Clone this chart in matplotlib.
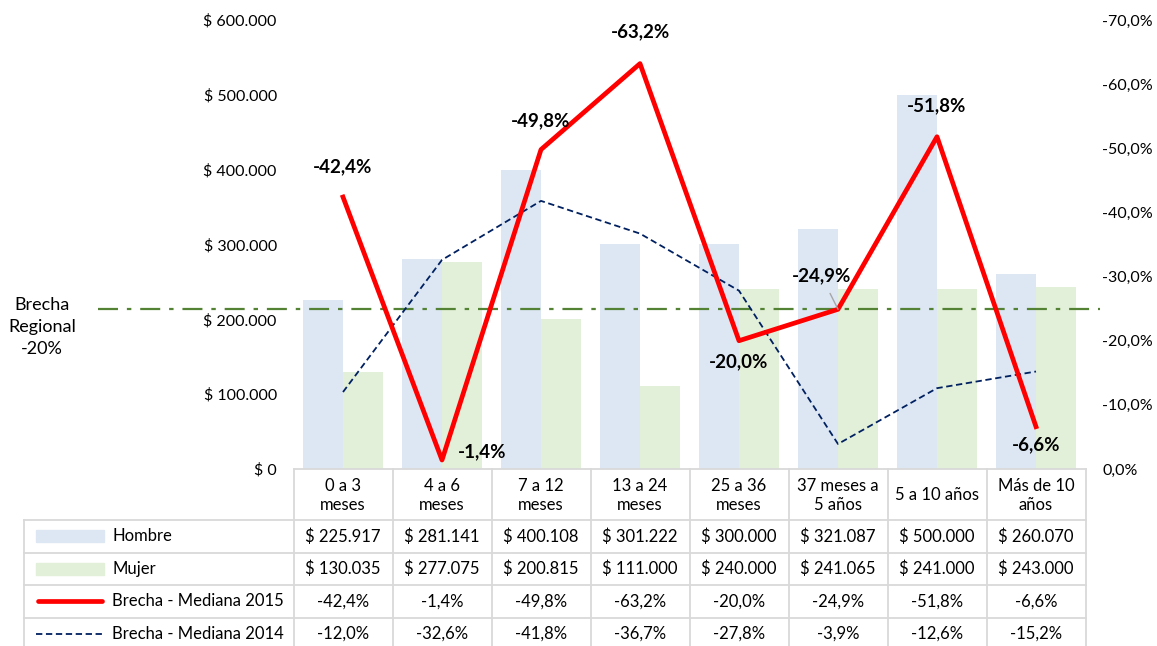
import numpy as np
import matplotlib
matplotlib.use("Agg")
import matplotlib.pyplot as plt
from matplotlib.patches import Rectangle

plt.rcParams["font.family"] = ["Lato", "DejaVu Sans"]

# --- data ---
categorias = ["0 a 3\nmeses", "4 a 6\nmeses", "7 a 12\nmeses", "13 a 24\nmeses",
              "25 a 36\nmeses", "37 meses a\n5 años", "5 a 10 años", "Más de 10\naños"]
hombre = [225917, 281141, 400108, 301222, 300000, 321087, 500000, 260070]
mujer = [130035, 277075, 200815, 111000, 240000, 241065, 241000, 243000]
brecha_2015 = [-42.4, -1.4, -49.8, -63.2, -20.0, -24.9, -51.8, -6.6]
brecha_2014 = [-12.0, -32.6, -41.8, -36.7, -27.8, -3.9, -12.6, -15.2]
brecha_regional = -24.9
brecha_regional_txt = "Brecha\nRegional\n-20%"

C_HOMBRE = "#DCE7F3"
C_MUJER = "#E2EFD9"
C_2015 = "#FF0000"
C_2014 = "#002060"
C_REG = "#548235"
C_GRID = "#D9D9D9"

W, H = 1157, 646
fig = plt.figure(figsize=(W / 100, H / 100), dpi=100)

# plot area in pixels
X0, X1, Y0, Y1 = 293.5, 1085.5, 20, 469
ax = fig.add_axes([X0 / W, 1 - Y1 / H, (X1 - X0) / W, (Y1 - Y0) / H])
x = np.arange(len(categorias))

ax.bar(x - 0.2, hombre, 0.4, color=C_HOMBRE, zorder=1)
ax.bar(x + 0.2, mujer, 0.4, color=C_MUJER, zorder=1)
ax.set_xlim(-0.5, len(categorias) - 0.5)
ax.set_ylim(0, 600000)
yt = np.arange(0, 600001, 100000)
ax.set_yticks(yt)
ax.set_yticklabels(["$ " + f"{int(v):,}".replace(",", ".") for v in yt])
ax.tick_params(axis="y", length=0, pad=12, labelsize=11.5)
ax.set_xticks([])
for s in ax.spines.values():
    s.set_visible(False)

ax2 = ax.twinx()
ax2.set_ylim(0, -70)
pt = np.arange(0, -71, -10)
ax2.set_yticks(pt)
ax2.set_yticklabels([f"{v:.1f}%".replace(".", ",") for v in pt])
ax2.tick_params(axis="y", length=0, pad=12, labelsize=11.5)
for s in ax2.spines.values():
    s.set_visible(False)

# regional reference line (extends past the plot area)
ax2.plot([-0.247, 1.018], [brecha_regional, brecha_regional],
         transform=ax2.get_yaxis_transform(), clip_on=False,
         color=C_REG, lw=1.6, dashes=(9, 4, 2, 4), zorder=2)

ax2.plot(x, brecha_2014, color=C_2014, lw=1.3, dashes=(3.5, 2), zorder=3)
ax2.plot(x, brecha_2015, color=C_2015, lw=3.4, zorder=4)

# data labels for 2015 series (offsets in points)
offsets = [(0, 22), (29, 6), (0, 21), (0, 23), (0, -15), (-12, 24), (0, 22), (0, -13)]
for i, (v, off) in enumerate(zip(brecha_2015, offsets)):
    lbl = f"{v:.1f}%".replace(".", ",")
    kw = {}
    if i == 5:
        kw = dict(arrowprops=dict(arrowstyle="-", color="#A6A6A6", lw=1,
                                  shrinkA=5, shrinkB=0))
    ax2.annotate(lbl, (x[i], v), xytext=off, textcoords="offset points",
                 ha="center", va="center", fontsize=13.5, fontweight="bold",
                 zorder=5, **kw)

# --- data table below plot ---
tab = fig.add_axes([0, 0, 1, 1], facecolor="none")
tab.set_xlim(0, W)
tab.set_ylim(H, 0)
tab.axis("off")

TL = 23.5
cw = (X1 - X0) / len(categorias)
col_edges = [X0 + cw * i for i in range(len(categorias) + 1)]
row_edges = [Y1, 520, 552.5, 585, 617.5, 650]
lw_grid = 1.3

# horizontal lines
tab.plot([X0, X1], [row_edges[0]] * 2, color=C_GRID, lw=lw_grid)
for yy in row_edges[1:]:
    tab.plot([TL, X1], [yy, yy], color=C_GRID, lw=lw_grid)
# vertical lines
tab.plot([TL, TL], [row_edges[1], row_edges[-1]], color=C_GRID, lw=lw_grid)
for xx in col_edges:
    tab.plot([xx, xx], [row_edges[0], row_edges[-1]], color=C_GRID, lw=lw_grid)

for i, cat in enumerate(categorias):
    cx = col_edges[i] + cw / 2
    tab.text(cx, (row_edges[0] + row_edges[1]) / 2 + 1, cat, ha="center",
             va="center", fontsize=12, linespacing=1.2)

rows = [
    ("Hombre", ["$ " + f"{v:,}".replace(",", ".") for v in hombre]),
    ("Mujer", ["$ " + f"{v:,}".replace(",", ".") for v in mujer]),
    ("Brecha - Mediana 2015", [f"{v:.1f}%".replace(".", ",") for v in brecha_2015]),
    ("Brecha - Mediana 2014", [f"{v:.1f}%".replace(".", ",") for v in brecha_2014]),
]
for r, (name, vals) in enumerate(rows):
    cy = (row_edges[r + 1] + row_edges[r + 2]) / 2
    if r == 0:
        tab.add_patch(Rectangle((36, cy - 6), 68, 12, color=C_HOMBRE))
    elif r == 1:
        tab.add_patch(Rectangle((36, cy - 6), 68, 12, color=C_MUJER))
    elif r == 2:
        tab.plot([38, 102], [cy, cy], color=C_2015, lw=3.4, solid_capstyle="round")
    else:
        tab.plot([36, 104], [cy, cy], color=C_2014, lw=1.3, dashes=(3.5, 2))
    tab.text(112, cy, name, ha="left", va="center", fontsize=12)
    for i, t in enumerate(vals):
        tab.text(col_edges[i] + cw / 2, cy, t, ha="center", va="center", fontsize=12)

# regional gap label on the left
tab.text(42, 327, brecha_regional_txt, ha="center", va="center", fontsize=13,
         linespacing=1.5)

fig.savefig("out.png", dpi=100)
